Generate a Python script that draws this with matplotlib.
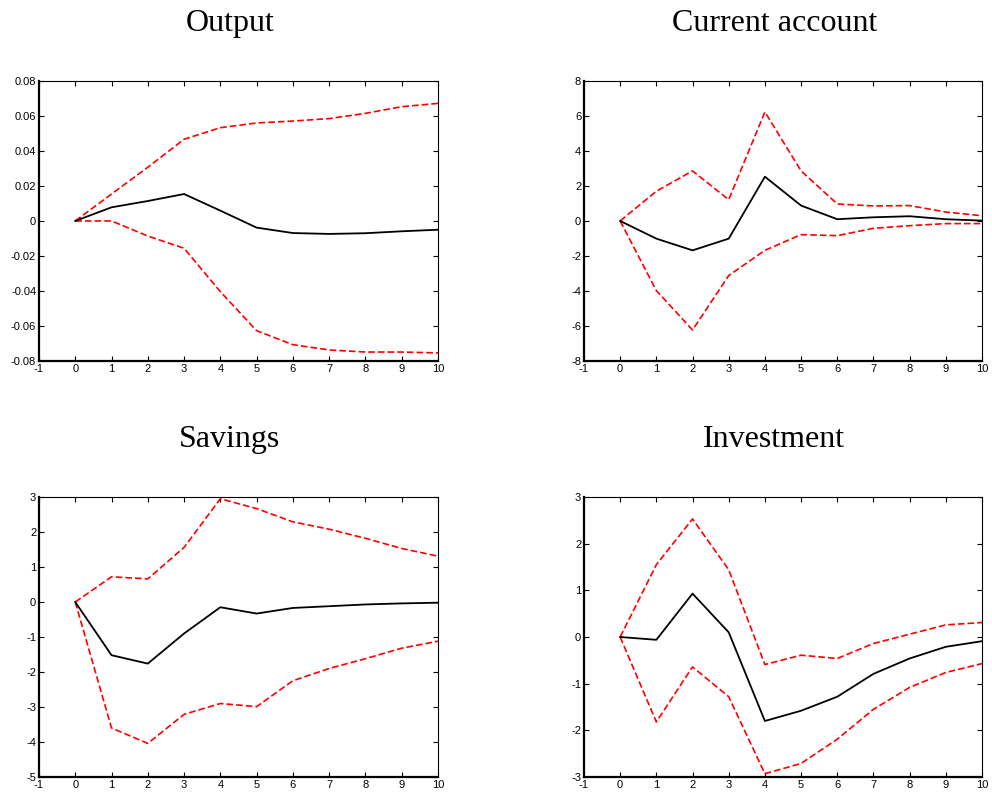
import matplotlib
matplotlib.use('Agg')
import matplotlib.pyplot as plt
import numpy as np

plt.rcParams['axes.unicode_minus'] = False  # 负号用连字符显示
plt.rcParams['font.family'] = ['Liberation Sans', 'DejaVu Sans']

# 横轴：期数
periods = np.arange(0, 11)

# Output
output_mid = [0, 0.0078, 0.0114, 0.0154, 0.0059, -0.0038, -0.0069, -0.0074, -0.0070, -0.0059, -0.0050]
output_up = [0, 0.0154, 0.0307, 0.0467, 0.0533, 0.0560, 0.0571, 0.0585, 0.0615, 0.0653, 0.0672]
output_lo = [0, 0.0, -0.0086, -0.0156, -0.0404, -0.0627, -0.0707, -0.0737, -0.0749, -0.0749, -0.0754]

# Current account
ca_mid = [0, -1.01, -1.68, -1.01, 2.53, 0.88, 0.10, 0.21, 0.27, 0.10, 0.02]
ca_up = [0, 1.70, 2.86, 1.22, 6.23, 2.86, 0.97, 0.86, 0.88, 0.51, 0.30]
ca_lo = [0, -3.98, -6.23, -3.12, -1.68, -0.78, -0.84, -0.42, -0.27, -0.15, -0.15]

# Savings
sav_mid = [0, -1.52, -1.76, -0.90, -0.15, -0.33, -0.17, -0.12, -0.07, -0.04, -0.02]
sav_up = [0, 0.72, 0.66, 1.56, 2.95, 2.67, 2.29, 2.08, 1.82, 1.53, 1.31]
sav_lo = [0, -3.60, -4.04, -3.21, -2.90, -2.99, -2.25, -1.90, -1.62, -1.32, -1.12]

# Investment
inv_mid = [0, -0.06, 0.93, 0.10, -1.80, -1.58, -1.28, -0.79, -0.46, -0.21, -0.09]
inv_up = [0, 1.55, 2.53, 1.44, -0.59, -0.39, -0.46, -0.14, 0.06, 0.26, 0.31]
inv_lo = [0, -1.82, -0.64, -1.28, -2.93, -2.71, -2.19, -1.55, -1.08, -0.76, -0.57]

titles = ['Output', 'Current account', 'Savings', 'Investment']
xticks = list(range(-1, 11))
yticks_output = [-0.08, -0.06, -0.04, -0.02, 0, 0.02, 0.04, 0.06, 0.08]
yticks_ca = [-8, -6, -4, -2, 0, 2, 4, 6, 8]
yticks_sav = [-5, -4, -3, -2, -1, 0, 1, 2, 3]
yticks_inv = [-3, -2, -1, 0, 1, 2, 3]

panels = [
    (output_mid, output_up, output_lo, yticks_output),
    (ca_mid, ca_up, ca_lo, yticks_ca),
    (sav_mid, sav_up, sav_lo, yticks_sav),
    (inv_mid, inv_up, inv_lo, yticks_inv),
]

# 子图位置 [left, bottom, width, height]
rects = [
    [0.0393, 0.5471, 0.4022, 0.3513],
    [0.5887, 0.5471, 0.4012, 0.3513],
    [0.0393, 0.0251, 0.4022, 0.3513],
    [0.5887, 0.0251, 0.4012, 0.3513],
]

fig = plt.figure(figsize=(9.92, 7.97), dpi=100)

for i in range(4):
    mid, up, lo, yt = panels[i]
    ax = fig.add_axes(rects[i])
    ax.plot(periods, up, color='red', lw=1.2, dashes=(4, 1.8))
    ax.plot(periods, lo, color='red', lw=1.2, dashes=(4, 1.8))
    ax.plot(periods, mid, color='black', lw=1.3)

    ax.set_xlim(-1, 10)
    ax.set_ylim(yt[0], yt[-1])
    ax.set_xticks(xticks)
    ax.set_yticks(yt)
    ax.set_xticklabels(['%g' % v for v in xticks])
    ax.set_yticklabels(['%g' % v for v in yt])

    ax.tick_params(direction='in', length=3.5, width=0.8, labelsize=8, pad=2,
                   top=True, right=True, colors='black')
    ax.spines['left'].set_linewidth(1.6)
    ax.spines['bottom'].set_linewidth(1.6)
    ax.spines['top'].set_linewidth(0.8)
    ax.spines['right'].set_linewidth(0.8)

    ax.set_title(titles[i], fontsize=23, family='Liberation Serif', pad=36, x=0.478)

fig.savefig('out.png', dpi=100)
